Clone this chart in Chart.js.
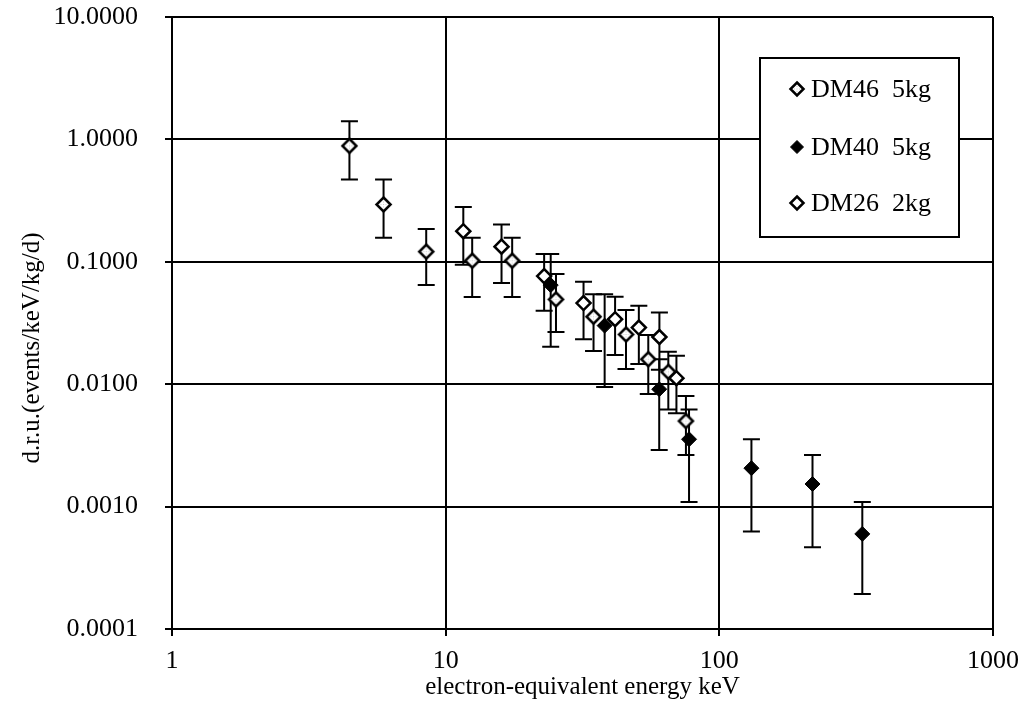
<!DOCTYPE html>
<html>
<head>
<meta charset="utf-8">
<script src="https://cdn.jsdelivr.net/npm/chart.js@4/dist/chart.umd.min.js"></script>
<style>
  html, body { margin: 0; padding: 0; background: #fff; }
  #wrap { width: 1031px; height: 714px; position: relative; }
</style>
</head>
<body>
<div id="wrap"><canvas id="c"></canvas></div>
<script>
// Differential rate spectra (d.r.u.) with error bars, three detectors
const seriesNames = ['DM46  5kg', 'DM40  5kg', 'DM26  2kg'];

const dm46Energy = [4.45, 5.93, 8.49, 12.5, 17.5, 25.3, 34.7, 45.6, 55.0, 65.1, 75.5];
const dm46Rate   = [0.885, 0.294, 0.121, 0.102, 0.102, 0.0493, 0.0356, 0.0255, 0.0160, 0.0126, 0.0050];
const dm46High   = [1.41, 0.471, 0.185, 0.157, 0.157, 0.0794, 0.0542, 0.0403, 0.0252, 0.0184, 0.0080];
const dm46Low    = [0.471, 0.157, 0.0645, 0.0515, 0.0515, 0.0267, 0.0187, 0.0133, 0.0083, 0.0062, 0.00264];

const dm40Energy = [24.2, 38.1, 60.3, 77.5, 131, 219, 333];
const dm40Rate   = [0.0645, 0.0301, 0.0091, 0.00355, 0.00206, 0.00153, 0.000598];
const dm40High   = [0.1156, 0.0542, 0.0160, 0.0062, 0.00355, 0.00264, 0.00109];
const dm40Low    = [0.0202, 0.0095, 0.0029, 0.00109, 0.000625, 0.000466, 0.000193];

const dm26Energy = [11.6, 16.0, 22.9, 31.9, 41.6, 50.8, 60.4, 69.7];
const dm26Rate   = [0.178, 0.133, 0.0764, 0.046, 0.034, 0.029, 0.0243, 0.0112];
const dm26High   = [0.281, 0.202, 0.1156, 0.0687, 0.0518, 0.0437, 0.0385, 0.0171];
const dm26Low    = [0.0945, 0.067, 0.0398, 0.0233, 0.0173, 0.0146, 0.0131, 0.00579];

const xTicks = [1, 10, 100, 1000];
const yTicks = [0.0001, 0.001, 0.01, 0.1, 1, 10];

const xTitle = 'electron-equivalent energy keV';
const yTitle = 'd.r.u.(events/keV/kg/d)';

const FONT = "'Liberation Serif', 'Times New Roman', serif";

// Dotted-fill diamond used for DM46
function dottedDiamond(r) {
  const s = Math.ceil(2 * r + 5);
  const cv = document.createElement('canvas');
  cv.width = s; cv.height = s;
  const g = cv.getContext('2d');
  const c = s / 2;
  g.beginPath();
  g.moveTo(c, c - r); g.lineTo(c + r, c); g.lineTo(c, c + r); g.lineTo(c - r, c); g.closePath();
  g.fillStyle = '#fff'; g.fill();
  g.lineWidth = 2.5; g.strokeStyle = '#000'; g.stroke();
  g.fillStyle = '#c8c8c8';
  const pts = [[0,-2.5],[0,0],[0,2.5],[-2.5,0],[2.5,0]];
  pts.forEach(p => { g.fillRect(c + p[0] - 0.5, c + p[1] - 0.5, 1, 1); });
  return cv;
}
const dm46Marker = dottedDiamond(7);
const dm46LegendMarker = dottedDiamond(6.5);

function toPoints(xs, ys) { return xs.map((x, i) => ({ x: x, y: ys[i] })); }

const errorSets = [
  { x: dm46Energy, hi: dm46High, lo: dm46Low },
  { x: dm40Energy, hi: dm40High, lo: dm40Low },
  { x: dm26Energy, hi: dm26High, lo: dm26Low }
];

// Vertical error bars with caps, placed through the chart scales
const errorBars = {
  id: 'errorBars',
  beforeDatasetsDraw(chart) {
    const { ctx, scales: { x, y } } = chart;
    ctx.save();
    ctx.strokeStyle = '#000';
    ctx.lineWidth = 2;
    const cap = 8.5;
    errorSets.forEach(set => {
      set.x.forEach((e, i) => {
        const px = x.getPixelForValue(e);
        const top = y.getPixelForValue(set.hi[i]);
        const bot = y.getPixelForValue(set.lo[i]);
        ctx.beginPath();
        ctx.moveTo(px, top); ctx.lineTo(px, bot);
        ctx.moveTo(px - cap, top); ctx.lineTo(px + cap, top);
        ctx.moveTo(px - cap, bot); ctx.lineTo(px + cap, bot);
        ctx.stroke();
      });
    });
    ctx.restore();
  }
};

// Boxed legend in the upper right of the plot, plus the rotated y title
const boxLegend = {
  id: 'boxLegend',
  afterDatasetsDraw(chart) {
    const { ctx } = chart;
    ctx.save();
    const bx = 760, by = 58, bw = 199, bh = 179;
    ctx.fillStyle = '#fff';
    ctx.fillRect(bx, by, bw, bh);
    ctx.strokeStyle = '#000';
    ctx.lineWidth = 2;
    ctx.strokeRect(bx, by, bw, bh);
    const rows = [89, 147, 203];
    const mx = 797;
    ctx.font = '26px ' + FONT;
    ctx.textBaseline = 'middle';
    ctx.textAlign = 'left';
    rows.forEach((ry, i) => {
      if (i === 0) {
        ctx.drawImage(dm46LegendMarker, mx - dm46LegendMarker.width / 2, ry - dm46LegendMarker.height / 2);
      } else {
        const r = 6.5;
        ctx.beginPath();
        ctx.moveTo(mx, ry - r); ctx.lineTo(mx + r, ry); ctx.lineTo(mx, ry + r); ctx.lineTo(mx - r, ry); ctx.closePath();
        ctx.fillStyle = i === 1 ? '#000' : '#fff';
        ctx.fill();
        ctx.lineWidth = i === 1 ? 1 : 2.5;
        ctx.strokeStyle = '#000';
        ctx.stroke();
      }
      ctx.fillStyle = '#000';
      ctx.fillText(seriesNames[i], 811, ry + 1);
    });
    ctx.restore();
  },
  afterDraw(chart) {
    const { ctx } = chart;
    ctx.save();
    ctx.translate(32, 348);
    ctx.rotate(-Math.PI / 2);
    ctx.font = '25px ' + FONT;
    ctx.fillStyle = '#000';
    ctx.textAlign = 'center';
    ctx.textBaseline = 'middle';
    ctx.fillText(yTitle, 0, 0);
    ctx.restore();
  }
};

const gridStyle = {
  color: '#000',
  lineWidth: 2,
  tickLength: 7,
  drawTicks: true
};

new Chart(document.getElementById('c'), {
  type: 'scatter',
  data: {
    datasets: [
      {
        label: seriesNames[0],
        data: toPoints(dm46Energy, dm46Rate),
        pointStyle: dm46Marker,
        pointRadius: 7,
        order: 3
      },
      {
        label: seriesNames[1],
        data: toPoints(dm40Energy, dm40Rate),
        pointStyle: 'rectRot',
        pointRadius: 7.5,
        backgroundColor: '#000',
        borderColor: '#000',
        borderWidth: 1,
        order: 2
      },
      {
        label: seriesNames[2],
        data: toPoints(dm26Energy, dm26Rate),
        pointStyle: 'rectRot',
        pointRadius: 7,
        backgroundColor: '#fff',
        borderColor: '#000',
        borderWidth: 2.5,
        order: 1
      }
    ]
  },
  options: {
    responsive: true,
    maintainAspectRatio: false,
    animation: false,
    events: [],
    layout: { padding: { top: 17, right: 38, left: 0, bottom: 0 } },
    plugins: {
      legend: { display: false },
      tooltip: { enabled: false }
    },
    scales: {
      x: {
        type: 'logarithmic',
        min: 1,
        max: 1000,
        afterBuildTicks(scale) { scale.ticks = xTicks.map(v => ({ value: v })); },
        afterFit(scale) {
          scale.height = 85;
          scale.paddingLeft = 0;
          scale.paddingRight = 0;
        },
        grid: gridStyle,
        border: { color: '#000', width: 2 },
        ticks: {
          color: '#000',
          font: { family: FONT, size: 26 },
          padding: 10,
          maxRotation: 0,
          autoSkip: false,
          callback: v => String(v)
        },
        title: {
          display: true,
          text: xTitle,
          color: '#000',
          font: { family: FONT, size: 25 },
          padding: { top: 0, bottom: 12 }
        }
      },
      y: {
        type: 'logarithmic',
        min: 0.0001,
        max: 10,
        afterBuildTicks(scale) { scale.ticks = yTicks.map(v => ({ value: v })); },
        afterFit(scale) {
          scale.width = 172;
          scale.paddingTop = 0;
          scale.paddingBottom = 0;
        },
        grid: gridStyle,
        border: { color: '#000', width: 2 },
        ticks: {
          color: '#000',
          font: { family: FONT, size: 26 },
          padding: 27,
          autoSkip: false,
          callback: v => Number(v).toFixed(4)
        }
      }
    }
  },
  plugins: [errorBars, boxLegend]
});
</script>
</body>
</html>
